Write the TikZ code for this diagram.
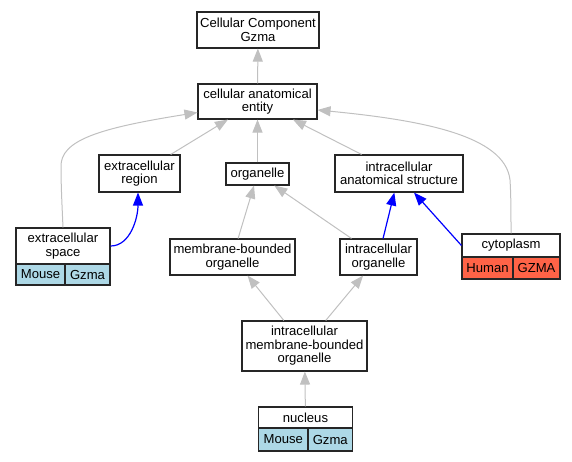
\documentclass[tikz,border=0pt]{standalone}
\usepackage{fontspec}
\setmainfont{Liberation Sans}
\usetikzlibrary{arrows.meta}
\definecolor{edgegray}{HTML}{C0C0C0}
\definecolor{mouseblue}{HTML}{ADD8E6}
\definecolor{humanred}{HTML}{FF6347}
\begin{document}
\begin{tikzpicture}[x=1pt,y=-1pt,
  box/.style={draw=black!85, line width=1.1pt, fill=white, inner sep=0pt, align=center, font=\fontsize{13.1}{13.5}\selectfont},
  mcell/.style={box, fill=mouseblue},
  hcell/.style={box, fill=humanred},
  gedge/.style={color=edgegray, line width=1pt, -{Triangle[length=13pt,width=10pt]}},
  bedge/.style={color=blue, line width=1.2pt, -{Triangle[length=13pt,width=10pt]}},
]
\useasboundingbox (0,0) rectangle (572,461);
% nodes
\node[box, minimum width=122pt, minimum height=36pt] (cc) at (258,30) {Cellular Component\\Gzma};
\node[box, minimum width=119pt, minimum height=35pt] (cae) at (257.5,101.5) {cellular anatomical\\entity};
\node[box, minimum width=81pt, minimum height=37pt] (er) at (139.5,173.5) {extracellular\\region};
\node[box, minimum width=63pt, minimum height=22pt] (org) at (257.5,174) {organelle};
\node[box, minimum width=128pt, minimum height=37pt] (ias) at (399,173.5) {intracellular\\anatomical structure};
% extracellular space record
\node[box, minimum width=94pt, minimum height=36pt] (es) at (63,246) {extracellular\\space};
\node[mcell, minimum width=49pt, minimum height=21pt] (esm) at (40.5,274.5) {Mouse};
\node[mcell, minimum width=45pt, minimum height=21pt] (esg) at (87.5,274.5) {Gzma};
\node[box, minimum width=125pt, minimum height=36pt] (mbo) at (232.5,257) {membrane-bounded\\organelle};
\node[box, minimum width=77pt, minimum height=36pt] (io) at (378.5,257) {intracellular\\organelle};
% cytoplasm record
\node[box, minimum width=98pt, minimum height=23pt] (cyt) at (511,245.5) {cytoplasm};
\node[hcell, minimum width=51pt, minimum height=22pt] (cyth) at (487.5,268) {Human};
\node[hcell, minimum width=47pt, minimum height=22pt] (cytg) at (536.5,268) {GZMA};
\node[box, minimum width=125pt, minimum height=50pt] (imbo) at (304.5,346) {intracellular\\membrane-bounded\\organelle};
% nucleus record
\node[box, minimum width=94pt, minimum height=21pt] (nuc) at (305.5,417.5) {nucleus};
\node[mcell, minimum width=49.5pt, minimum height=23pt] (nucm) at (283.25,439.5) {Mouse};
\node[mcell, minimum width=44.5pt, minimum height=23pt] (nucg) at (330.25,439.5) {Gzma};
% edges
\draw[gedge] (cae) -- (cc);
\draw[gedge] (er) -- (cae);
\draw[gedge] (org) -- (cae);
\draw[gedge] (ias) -- (cae);
\draw[gedge] (es.north) .. controls (62,205) and (61,185) .. (61,167) .. controls (60,140) and (100,128) .. ([yshift=-11pt]cae.west);
\draw[gedge] (cyt.north) .. controls (511,215) and (511,195) .. (510,180) .. controls (505,135) and (420,120) .. ([yshift=-8.5pt]cae.east);
\draw[bedge] (es.east) .. controls +(20,0) and +(0,25) .. ([xshift=-1.5pt]er.south);
\draw[gedge] (mbo) -- (org);
\draw[gedge] (io) -- (org);
\draw[bedge] (io) -- (ias);
\draw[bedge] (cyt.west) -- ([xshift=15pt]ias.south);
\draw[gedge] (imbo) -- (mbo);
\draw[gedge] (imbo) -- (io);
\draw[gedge] (nuc) -- (imbo);
\end{tikzpicture}
\end{document}
